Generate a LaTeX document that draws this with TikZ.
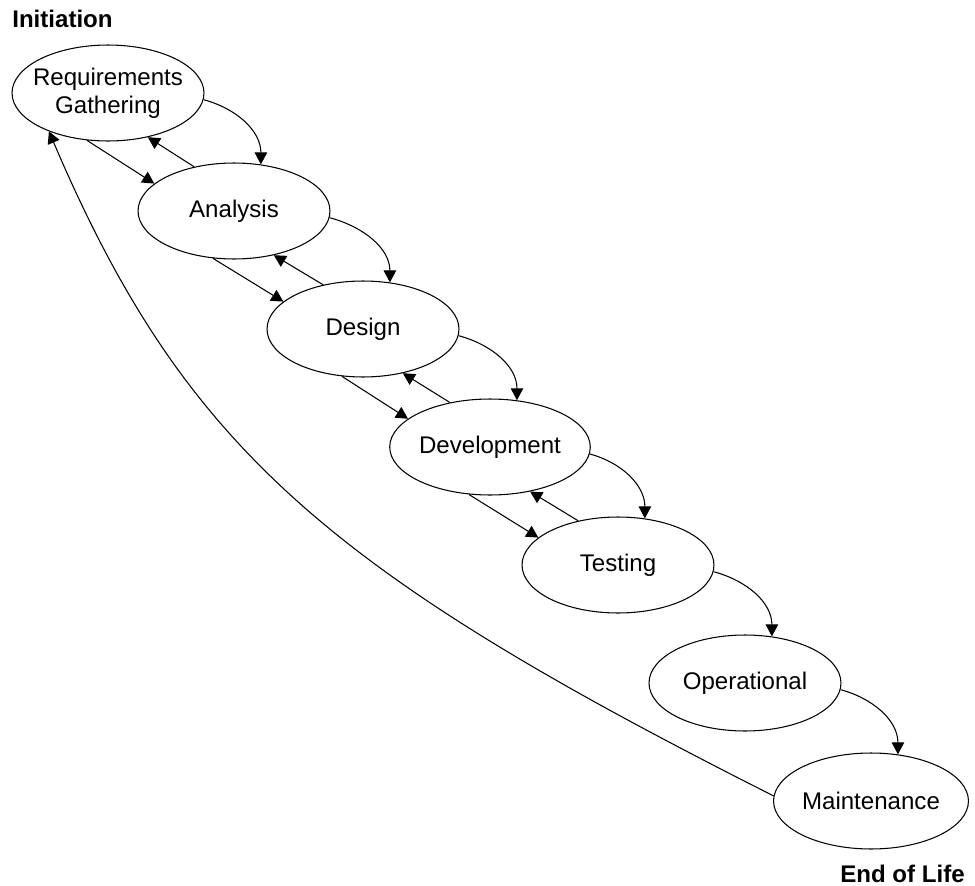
\documentclass[tikz,border=0pt]{standalone}
\usepackage{fontspec}
\setmainfont{Liberation Sans}
\usetikzlibrary{arrows.meta,shapes.geometric}

\begin{document}
\begin{tikzpicture}
  [
    x=0.02cm, y=-0.02cm,
    phase/.style={ellipse, draw=black, line width=0.6pt,
      minimum width=3.84cm, minimum height=1.92cm, inner sep=0pt,
      align=center, font=\fontsize{13.7}{16}\selectfont},
    ld/.style={draw=black, line width=0.6pt,
      -{Triangle[length=2.4mm,width=2.5mm]}},
    bd/.style={ld, out=-15, in=90},
    tag/.style={inner sep=0pt, font=\fontsize{13.7}{16}\selectfont\bfseries}
  ]
  \useasboundingbox (0,0) rectangle (975,886);

  \node (ini) at (12,19) [tag, anchor=west] {Initiation};
  \node (eol) at (965,874) [tag, anchor=east] {End of Life};

  \node (req) at (108,93) [phase, inner xsep=-2.5mm] {Requirements\\Gathering};
  \node (ana) at (234,211) [phase] {Analysis};
  \node (des) at (363,329) [phase] {Design};
  \node (dev) at (490,447) [phase] {Development};
  \node (tes) at (618,565) [phase] {Testing};
  \node (ope) at (745,683) [phase] {Operational};
  \node (mai) at (871,801) [phase] {Maintenance};

  % forward and back between neighbours
  \draw [ld] (req.246) -> (ana.161);
  \draw [ld] (ana.132) -> (req.312);
  \draw [ld] (ana.246) -> (des.161);
  \draw [ld] (des.132) -> (ana.312);
  \draw [ld] (des.246) -> (dev.161);
  \draw [ld] (dev.132) -> (des.312);
  \draw [ld] (dev.246) -> (tes.161);
  \draw [ld] (tes.132) -> (dev.312);

  % bent arrows down the chain
  \draw [bd] (req.-4) to (ana.60);
  \draw [bd] (ana.-4) to (des.60);
  \draw [bd] (des.-4) to (dev.60);
  \draw [bd] (dev.-4) to (tes.60);
  \draw [bd] (tes.-4) to (ope.60);
  \draw [bd] (ope.-4) to (mai.60);

  % back to the start
  \draw [ld] (mai.177) .. controls (330,572) and (185,450) .. (req.213);
\end{tikzpicture}
\end{document}
